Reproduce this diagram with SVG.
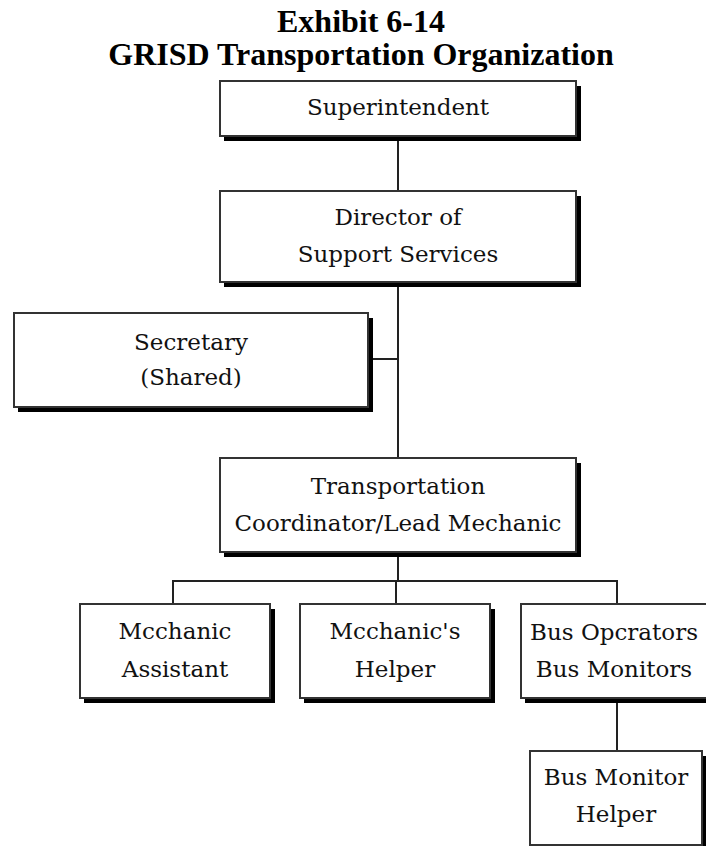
<svg xmlns="http://www.w3.org/2000/svg" width="706" height="846" viewBox="0 0 706 846">
  <style>
    .title { font-family: "Liberation Serif", "Times New Roman", serif; font-weight: bold; font-size: 32px; fill: #000; text-anchor: middle; }
    .shadow { fill: #000; }
    .box { fill: #fff; stroke: #333; stroke-width: 2; }
    .label { font-family: "DejaVu Serif", "Liberation Serif", serif; font-size: 23px; fill: #111; text-anchor: middle; }
    .wire { fill: none; stroke: #222; stroke-width: 2; }
  </style>

  <rect width="706" height="846" fill="#fff"/>

  <g id="title">
    <text class="title" x="361" y="32">Exhibit 6-14</text>
    <text class="title" x="361" y="65">GRISD Transportation Organization</text>
  </g>

  <g id="connectors">
    <line class="wire" x1="398" y1="141" x2="398" y2="191"/>
    <line class="wire" x1="398" y1="287" x2="398" y2="458"/>
    <line class="wire" x1="373" y1="359" x2="398" y2="359"/>
    <line class="wire" x1="398" y1="557" x2="398" y2="581"/>
    <polyline class="wire" points="173,604 173,581 617,581 617,604"/>
    <line class="wire" x1="396" y1="581" x2="396" y2="604"/>
    <line class="wire" x1="617" y1="703" x2="617" y2="751"/>
  </g>

  <g id="superintendent">
    <rect class="shadow" x="224" y="86" width="357" height="55"/>
    <rect class="box" x="220" y="81" width="356" height="55"/>
    <text class="label" x="398" y="115">Superintendent</text>
  </g>

  <g id="director">
    <rect class="shadow" x="224" y="196" width="357" height="91"/>
    <rect class="box" x="220" y="191" width="356" height="91"/>
    <text class="label" x="398" y="225">Director of</text>
    <text class="label" x="398" y="262">Support Services</text>
  </g>

  <g id="secretary">
    <rect class="shadow" x="18" y="318" width="355" height="94"/>
    <rect class="box" x="14" y="313" width="354" height="94"/>
    <text class="label" x="191" y="350">Secretary</text>
    <text class="label" x="191" y="385">(Shared)</text>
  </g>

  <g id="coordinator">
    <rect class="shadow" x="224" y="463" width="357" height="94"/>
    <rect class="box" x="220" y="458" width="356" height="94"/>
    <text class="label" x="398" y="494">Transportation</text>
    <text class="label" x="398" y="531">Coordinator/Lead Mechanic</text>
  </g>

  <g id="mechanic-assistant">
    <rect class="shadow" x="84" y="609" width="191" height="94"/>
    <rect class="box" x="80" y="604" width="190" height="94"/>
    <text class="label" x="175" y="639">Mcchanic</text>
    <text class="label" x="175" y="677">Assistant</text>
  </g>

  <g id="mechanic-helper">
    <rect class="shadow" x="304" y="609" width="191" height="94"/>
    <rect class="box" x="300" y="604" width="190" height="94"/>
    <text class="label" x="395" y="639">Mcchanic's</text>
    <text class="label" x="395" y="677">Helper</text>
  </g>

  <g id="bus-operators">
    <rect class="shadow" x="525" y="609" width="192" height="94"/>
    <rect class="box" x="521" y="604" width="191" height="94"/>
    <text class="label" x="614" y="640">Bus Opcrators</text>
    <text class="label" x="614" y="677">Bus Monitors</text>
  </g>

  <g id="bus-monitor-helper">
    <rect class="shadow" x="534" y="756" width="174" height="94"/>
    <rect class="box" x="530" y="751" width="172" height="94"/>
    <text class="label" x="616" y="785">Bus Monitor</text>
    <text class="label" x="616" y="822">Helper</text>
  </g>
</svg>
